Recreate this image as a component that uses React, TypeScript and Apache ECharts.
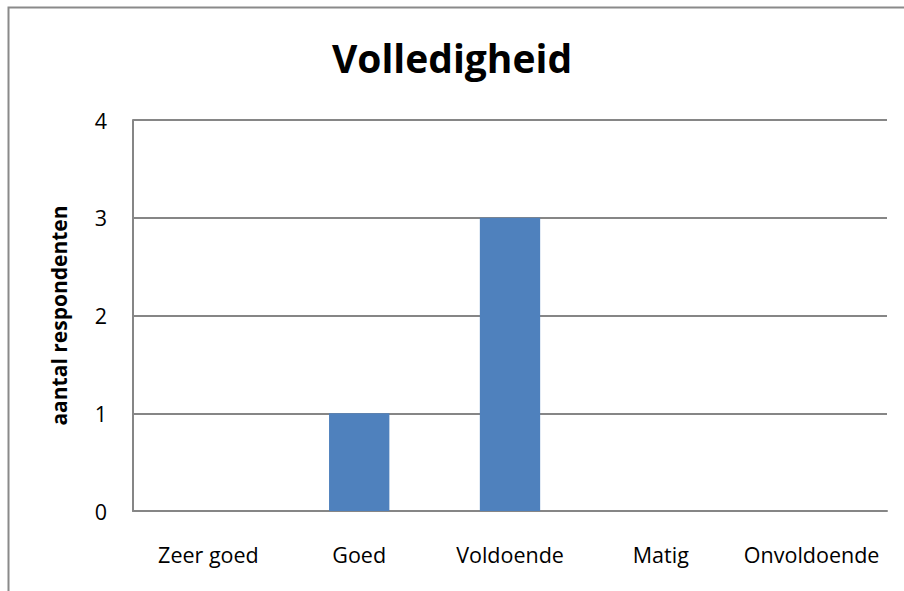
import React, { useEffect, useRef } from "react";
import * as echarts from "echarts";

const categories = ["Zeer goed", "Goed", "Voldoende", "Matig", "Onvoldoende"];
const values = [0, 1, 3, 0, 0];
const titleText = "Volledigheid";
const yAxisName = "aantal respondenten";

const FONT = "'Open Sans', 'Liberation Sans', sans-serif";

export default function App() {
  const ref = useRef<HTMLDivElement>(null);
  useEffect(() => {
    if (!ref.current) return;
    const chart = echarts.init(ref.current, null, { renderer: "svg" });
    chart.setOption({
      animation: false,
      backgroundColor: "#ffffff",
      title: {
        text: titleText,
        left: "center",
        top: 33,
        textStyle: { fontFamily: FONT, fontSize: 39, fontWeight: "bold", color: "#000" },
      },
      graphic: [
        {
          type: "rect",
          shape: { x: 8.5, y: 7.5, width: 1000, height: 1000 },
          style: { fill: "none", stroke: "#8a8a8a", lineWidth: 2 },
          silent: true,
        },
      ],
      grid: { left: 133, top: 120, right: 17, bottom: 80, containLabel: false },
      xAxis: {
        type: "category",
        data: categories,
        axisLine: { show: true, lineStyle: { color: "#868686", width: 2 } },
        axisTick: { show: false },
        axisLabel: { fontFamily: FONT, fontSize: 21.5, color: "#000", margin: 32, interval: 0, hideOverlap: false },
        splitLine: { show: false },
      },
      yAxis: {
        type: "value",
        min: 0,
        max: 4,
        interval: 1,
        name: yAxisName,
        nameLocation: "middle",
        nameGap: 64,
        nameTextStyle: { fontFamily: FONT, fontSize: 21, fontWeight: "bold", color: "#000" },
        axisLine: { show: true, lineStyle: { color: "#868686", width: 2 } },
        axisTick: { show: false },
        axisLabel: { fontFamily: FONT, fontSize: 21.5, color: "#000", margin: 26 },
        splitLine: { show: true, lineStyle: { color: "#868686", width: 2 } },
      },
      series: [
        {
          type: "bar",
          data: values,
          barWidth: "40%",
          itemStyle: { color: "#4F81BD" },
        },
      ],
    });
    return () => chart.dispose();
  }, []);
  return (
    <div
      ref={ref}
      style={{ position: "fixed", left: 0, top: 0, width: 904, height: 591 }}
    />
  );
}
